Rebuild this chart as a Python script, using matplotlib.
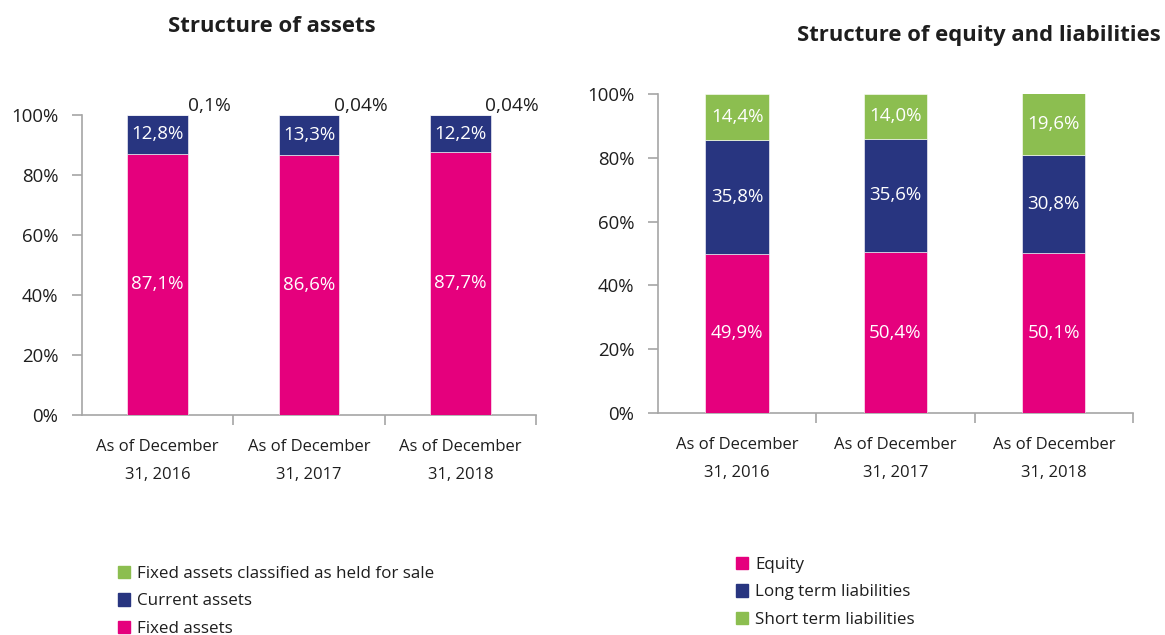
import matplotlib
matplotlib.use("Agg")
import matplotlib.pyplot as plt
from matplotlib.patches import Patch

plt.rcParams['font.family'] = ['Open Sans', 'DejaVu Sans']

# --- data -------------------------------------------------------------
periods = ["As of December\n31, 2016", "As of December\n31, 2017", "As of December\n31, 2018"]

fixed_assets = [87.1, 86.6, 87.7]
current_assets = [12.8, 13.3, 12.2]
held_for_sale = [0.1, 0.04, 0.04]
held_for_sale_labels = ["0,1%", "0,04%", "0,04%"]

equity = [49.9, 50.4, 50.1]
long_term = [35.8, 35.6, 30.8]
short_term = [14.4, 14.0, 19.6]

yticks = [0, 20, 40, 60, 80, 100]

PINK = "#E5007D"
NAVY = "#283580"
GREEN = "#8CBE50"
TEXT = "#1e1e1e"
AXIS = "#a6a6a6"

VAL_FS = 13.5


def fmt(v):
    return f"{v:.1f}%".replace(".", ",")


def style_axes(ax):
    ax.set_xlim(-0.5, 2.5)
    ax.set_ylim(0, 100)
    for s in ("top", "right"):
        ax.spines[s].set_visible(False)
    for s in ("left", "bottom"):
        ax.spines[s].set_color(AXIS)
        ax.spines[s].set_linewidth(1.2)
    ax.set_yticks(yticks)
    ax.set_yticklabels([f"{t}%" for t in yticks], fontsize=13.4, color=TEXT)
    ax.tick_params(axis="y", length=7, width=1.2, color=AXIS, pad=10)
    ax.set_xticks(range(len(periods)))
    ax.set_xticklabels(periods, fontsize=12, color=TEXT, linespacing=2.0)
    ax.tick_params(axis="x", which="major", length=0, pad=17)
    ax.set_xticks([0.5, 1.5, 2.5], minor=True)
    ax.tick_params(axis="x", which="minor", length=7, width=1.2, color=AXIS)


def stacked(ax, series, colors, width=0.4):
    x = list(range(len(periods)))
    bottom = [0.0] * len(x)
    for vals, col in zip(series, colors):
        ax.bar(x, vals, width, bottom=bottom, color=col, edgecolor="white",
               linewidth=0.4, zorder=3)
        bottom = [b + v for b, v in zip(bottom, vals)]


fig = plt.figure(figsize=(11.65, 6.35), dpi=100)

# --- Structure of assets ---------------------------------------------
ax1 = fig.add_axes([0.0704, 0.3465, 0.3897, 0.4724])
stacked(ax1, [fixed_assets, current_assets, held_for_sale], [PINK, NAVY, GREEN])
style_axes(ax1)
for i in range(len(periods)):
    ax1.text(i, fixed_assets[i] / 2, fmt(fixed_assets[i]), ha="center", va="center",
             color="white", fontsize=VAL_FS, zorder=4)
    ax1.text(i, fixed_assets[i] + current_assets[i] / 2, fmt(current_assets[i]),
             ha="center", va="center", color="white", fontsize=VAL_FS, zorder=4)
    ax1.text(i + 0.34, 103, held_for_sale_labels[i], ha="center", va="center",
             color=TEXT, fontsize=13.8, clip_on=False)

fig.text(272 / 1165, 1 - 26 / 635, "Structure of assets", ha="center", va="center",
         fontsize=15.9, fontweight="bold", color=TEXT)

legend_kw = dict(loc="upper left", frameon=False, fontsize=12.25, handlelength=0.75,
                 handleheight=0.75, handletextpad=0.4, labelspacing=0.68, borderpad=0,
                 labelcolor=TEXT)

fig.legend(handles=[Patch(color=GREEN, label="Fixed assets classified as held for sale"),
                    Patch(color=NAVY, label="Current assets"),
                    Patch(color=PINK, label="Fixed assets")],
           bbox_to_anchor=(109 / 1165, 1 - 557 / 635), **legend_kw)

# --- Structure of equity and liabilities -----------------------------
ax2 = fig.add_axes([0.5648, 0.3496, 0.4077, 0.5024])
stacked(ax2, [equity, long_term, short_term], [PINK, NAVY, GREEN])
style_axes(ax2)
for i in range(len(periods)):
    ax2.text(i, equity[i] / 2, fmt(equity[i]), ha="center", va="center",
             color="white", fontsize=VAL_FS, zorder=4)
    ax2.text(i, equity[i] + long_term[i] / 2, fmt(long_term[i]), ha="center",
             va="center", color="white", fontsize=VAL_FS, zorder=4)
    top = min(100.0, equity[i] + long_term[i] + short_term[i])
    ax2.text(i, (equity[i] + long_term[i] + top) / 2, fmt(short_term[i]),
             ha="center", va="center", color="white", fontsize=VAL_FS, zorder=4)

fig.text(979 / 1165, 1 - 36 / 635, "Structure of equity and liabilities", ha="center",
         va="center", fontsize=15.8, fontweight="bold", color=TEXT)

fig.legend(handles=[Patch(color=PINK, label="Equity"),
                    Patch(color=NAVY, label="Long term liabilities"),
                    Patch(color=GREEN, label="Short term liabilities")],
           bbox_to_anchor=(727 / 1165, 1 - 548 / 635), **legend_kw)

fig.savefig("out.png", dpi=100, facecolor="white")
